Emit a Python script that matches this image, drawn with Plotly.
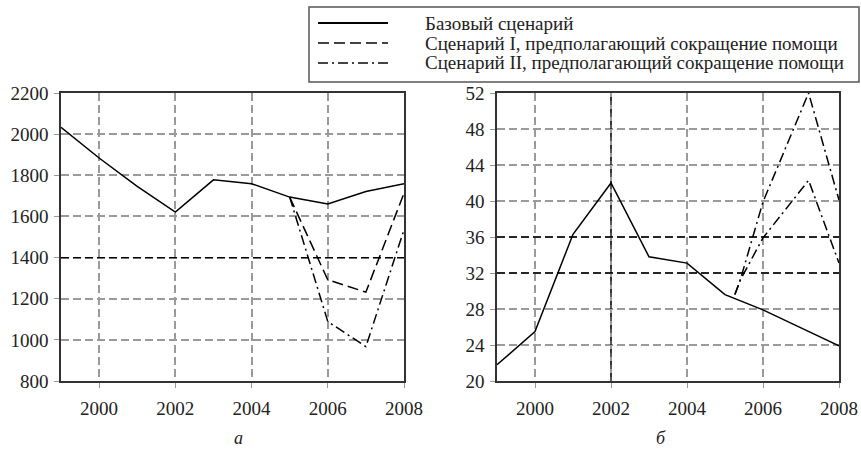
import plotly.graph_objects as go

# ---- data ----
years = [1999, 2000, 2001, 2002, 2003, 2004, 2005, 2006, 2007, 2008]
base_a = [2033, 1884, 1746, 1621, 1778, 1759, 1694, 1661, 1721, 1759]
scen1_years_a = [2005, 2006, 2007, 2008]
scen1_a = [1694, 1292, 1232, 1713]
scen2_years_a = [2005, 2006, 2007, 2008]
scen2_a = [1694, 1089, 967, 1535]

base_b = [21.8, 25.5, 36.3, 42.0, 33.8, 33.1, 29.6, 27.9, 25.9, 23.9]
scen1_years_b = [2005.26, 2005.4, 2006, 2007.2, 2008]
scen1_b = [29.6, 31.2, 35.9, 42.3, 33.1]
scen2_years_b = [2005.26, 2005.4, 2006, 2007.2, 2008]
scen2_b = [29.6, 31.2, 39.9, 52.0, 40.1]

names = ["Базовый сценарий",
         "Сценарий I, предполагающий сокращение помощи",
         "Сценарий II, предполагающий сокращение помощи"]
yticks_a = [800, 1000, 1200, 1400, 1600, 1800, 2000, 2200]
yticks_b = [20, 24, 28, 32, 36, 40, 44, 48, 52]
xticks = [2000, 2002, 2004, 2006, 2008]
panel_labels = ["а", "б"]

FONT = "Liberation Serif"
SOLID = "solid"
DASH = "11px,5px"
DASHDOT = "10px,4px,2px,4px"

W, H = 861, 459
def px(x):
    return x / W
def py(y):
    return 1 - y / H

fig = go.Figure()
ln = dict(color="black", width=1.5)
fig.add_trace(go.Scatter(x=years, y=base_a, mode="lines", name=names[0],
                         line=dict(ln, dash=SOLID), xaxis="x", yaxis="y"))
fig.add_trace(go.Scatter(x=scen1_years_a, y=scen1_a, mode="lines", name=names[1],
                         line=dict(ln, dash=DASH), xaxis="x", yaxis="y"))
fig.add_trace(go.Scatter(x=scen2_years_a, y=scen2_a, mode="lines", name=names[2],
                         line=dict(ln, dash=DASHDOT), xaxis="x", yaxis="y"))
fig.add_trace(go.Scatter(x=years, y=base_b, mode="lines", name=names[0],
                         line=dict(ln, dash=SOLID), xaxis="x2", yaxis="y2"))
fig.add_trace(go.Scatter(x=scen1_years_b, y=scen1_b, mode="lines", name=names[1],
                         line=dict(ln, dash=DASHDOT), xaxis="x2", yaxis="y2"))
fig.add_trace(go.Scatter(x=scen2_years_b, y=scen2_b, mode="lines", name=names[2],
                         line=dict(ln, dash=DASHDOT), xaxis="x2", yaxis="y2"))

axis_common = dict(
    showline=True, linecolor="#333", linewidth=1.5, mirror=True,
    showgrid=True, gridcolor="#9a9a9a", gridwidth=1.5, griddash="8px,4px",
    ticks="outside", ticklen=5, tickcolor="#999", zeroline=False, automargin=False,
    tickfont=dict(family=FONT, size=19, color="#222"),
)
fig.update_layout(
    width=W, height=H, margin=dict(l=0, r=0, t=0, b=0, autoexpand=False),
    paper_bgcolor="white", plot_bgcolor="white",
    font=dict(family=FONT, color="#222"),
    showlegend=False,
    xaxis=dict(axis_common, domain=[px(61), px(404)], range=[1999, 2008],
               tickvals=xticks, anchor="y", ticklabelstandoff=4),
    yaxis=dict(axis_common, domain=[py(381), py(93)], range=[800, 2200],
               tickvals=yticks_a, anchor="x", ticklabelstandoff=2),
    xaxis2=dict(axis_common, domain=[px(497), px(839)], range=[1999, 2008],
                tickvals=xticks, anchor="y2", ticklabelstandoff=4),
    yaxis2=dict(axis_common, domain=[py(381), py(93)], range=[20, 52],
                tickvals=yticks_b, anchor="x2", ticklabelstandoff=2),
)

# darker grid lines
dark = dict(color="black", width=1.3, dash="8px,4px")
fig.add_shape(type="line", xref="x", yref="y", x0=1999, x1=2008, y0=1400, y1=1400, line=dark, layer="between")
fig.add_shape(type="line", xref="x2", yref="y2", x0=1999, x1=2008, y0=32, y1=32, line=dark, layer="between")
fig.add_shape(type="line", xref="x2", yref="y2", x0=1999, x1=2008, y0=36, y1=36, line=dark, layer="between")
fig.add_shape(type="line", xref="x2", yref="y2", x0=2002, x1=2002, y0=20, y1=52, line=dark, layer="between")

# legend key (framed box above the panels)
fig.add_shape(type="rect", xref="paper", yref="paper", x0=px(309), x1=px(859), y0=py(82), y1=py(7),
              line=dict(color="#555", width=1.5), fillcolor="white", layer="above")
styles = [SOLID, DASH, DASHDOT]
rows = [23, 43, 63]
for name, st, ry in zip(names, styles, rows):
    fig.add_shape(type="line", xref="paper", yref="paper", x0=px(318), x1=px(388), y0=py(ry), y1=py(ry),
                  line=dict(color="black" if st == SOLID else "#444", width=2 if st == SOLID else 2.2, dash=st),
                  layer="above")
    fig.add_annotation(text=name, x=px(423), y=py(ry), xref="paper", yref="paper", xanchor="left",
                       yanchor="middle", showarrow=False, font=dict(family=FONT, size=19, color="#222"))

for lab, xx in zip(panel_labels, [232, 668]):
    fig.add_annotation(text="<i>" + lab + "</i>", x=px(xx), y=py(450), xref="paper", yref="paper",
                       showarrow=False, font=dict(family=FONT, size=18, color="#222"))

fig.write_html("out.html", config={"displayModeBar": False},
               post_script="document.body.style.margin='0';")
